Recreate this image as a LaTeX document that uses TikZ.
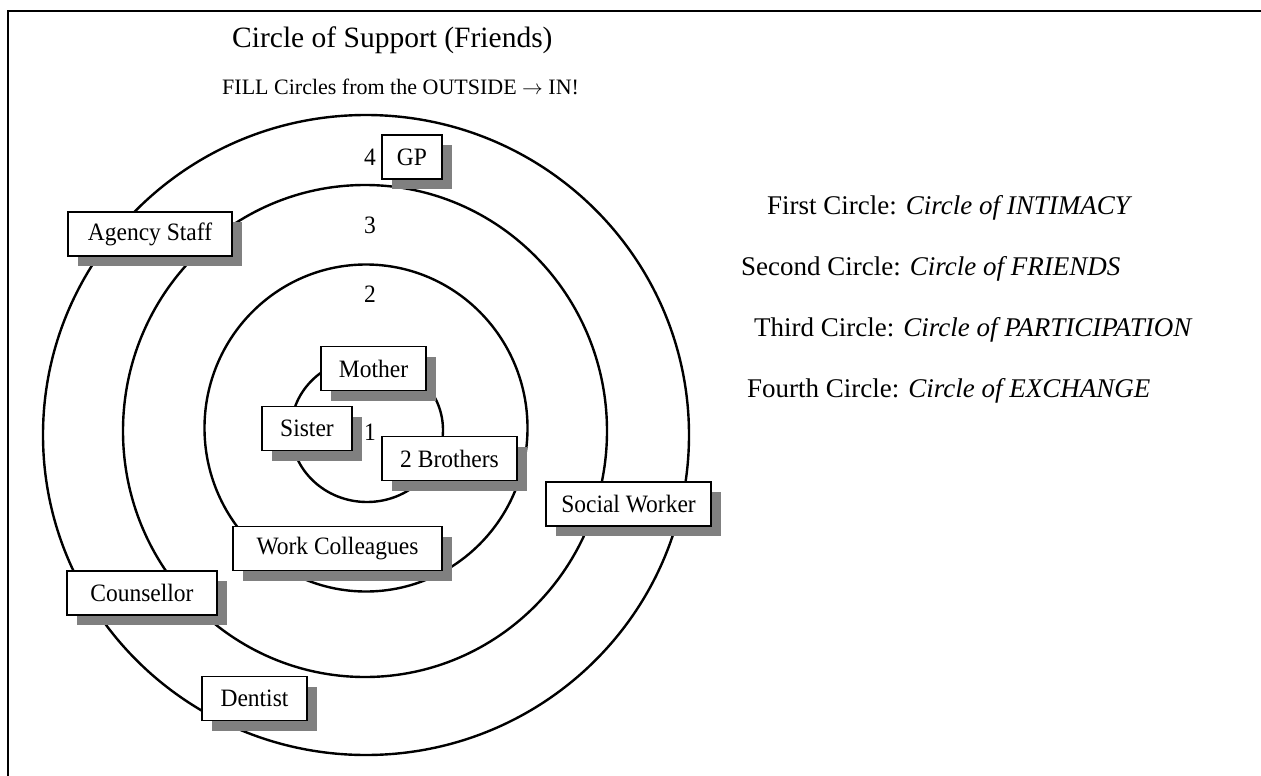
\documentclass[tikz,border=0pt]{standalone}
\usepackage{fontspec}
\setmainfont{Liberation Serif}
\newfontfamily\boxfont[FakeStretch=0.94]{Liberation Serif}
\usetikzlibrary{shadows}
\begin{document}
\begin{tikzpicture}[x=1pt,y=-1pt,
  lbl/.style={draw=black,line width=1.3pt,fill=white,inner sep=0pt,minimum height=44pt,
    font=\boxfont\fontsize{25}{28}\selectfont,
    general shadow={fill=black!50,shadow xshift=10pt,shadow yshift=-10pt}},
  ring/.style={draw=black,line width=2.4pt},
  num/.style={font=\boxfont\fontsize{25}{28}\selectfont,inner sep=0pt},
  legend/.style={anchor=base west,inner sep=0pt,font=\fontsize{27}{32}\selectfont}]
\useasboundingbox (0,0) rectangle (1261,776);
\fill[white] (0,0) rectangle (1261,776);
\draw[line width=2pt] (7.5,776) -- (7.5,11.5) -- (1261,11.5);

% titles
\node[anchor=base west,inner sep=0pt,font=\fontsize{29.5}{34}\selectfont] (title) at (232,48) {Circle of Support (Friends)};
\node[anchor=base west,inner sep=0pt,font=\fontsize{22}{26}\selectfont] (sub) at (222,95) {FILL Circles from the OUTSIDE $\rightarrow$ IN!};

% rings
\draw[ring] (366,435) ellipse [x radius=323, y radius=320];
\draw[ring] (365,431) ellipse [x radius=242, y radius=246];
\draw[ring] (366,428) ellipse [x radius=161.5, y radius=163.5];
\draw[ring] (367,430) ellipse [x radius=76, y radius=72];

% numbers
\node[num] (n4) at (370,157) {4};
\node[num] (n3) at (370,225) {3};
\node[num] (n2) at (370,294) {2};
\node[num] (n1) at (370,432) {1};

% boxes
\node[lbl,minimum width=60pt] (gp) at (412,157) {GP};
\node[lbl,minimum width=164pt] (agency) at (150,234) {Agency Staff};
\node[lbl,minimum width=105pt] (mother) at (373.5,368.5) {Mother};
\node[lbl,minimum width=90pt] (sister) at (307,428.5) {Sister};
\node[lbl,minimum width=135pt] (brothers) at (449.5,458.5) {2 Brothers};
\node[lbl,minimum width=165pt] (social) at (628.5,504) {Social Worker};
\node[lbl,minimum width=209pt] (work) at (337.5,548.5) {Work Colleagues};
\node[lbl,minimum width=150pt] (couns) at (142,593) {Counsellor};
\node[lbl,minimum width=105pt] (dentist) at (254.5,698.5) {Dentist};

% legend
\node[legend] (l1) at (767,214) {First Circle: \textit{Circle of INTIMACY}};
\node[legend] (l2) at (741,275) {Second Circle: \textit{Circle of FRIENDS}};
\node[legend] (l3) at (754,336) {Third Circle: \textit{Circle of PARTICIPATION}};
\node[legend] (l4) at (747,397) {Fourth Circle: \textit{Circle of EXCHANGE}};
\end{tikzpicture}
\end{document}
